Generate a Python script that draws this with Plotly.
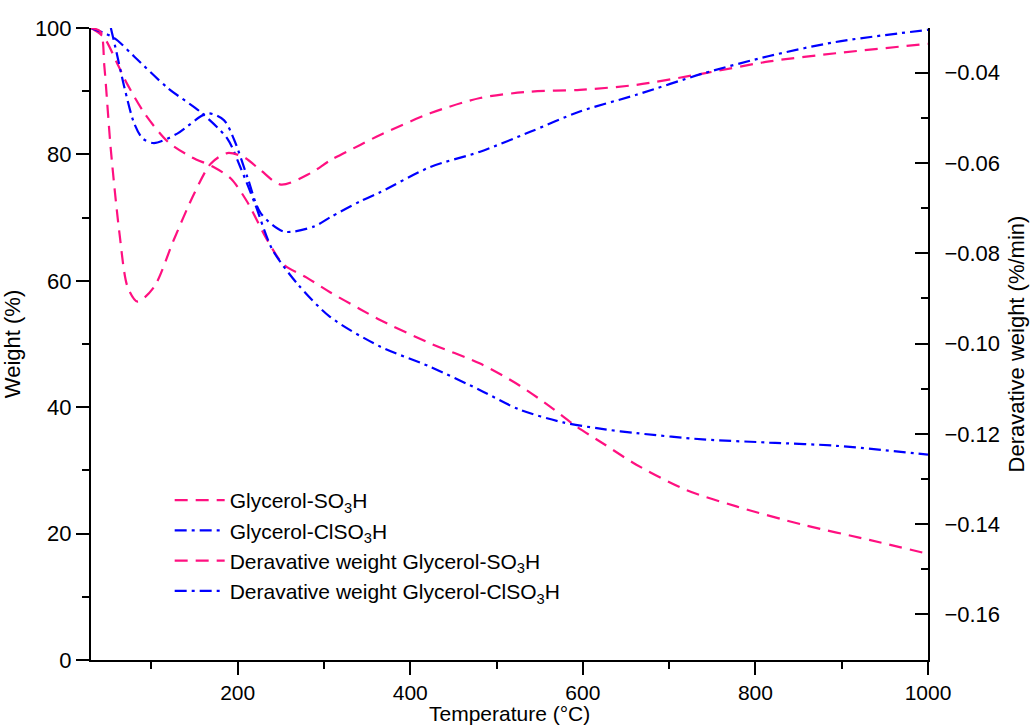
import plotly.graph_objects as go

# Weight curves (left axis, %)
t_w_so3h = [30, 45, 60, 72.5, 92, 119, 146, 172, 192, 211, 234, 253, 280, 307, 342, 365, 423, 481, 527, 562, 593, 623, 662, 720, 778, 855, 932, 1000]
w_so3h = [100, 98.5, 94.5, 91, 86.5, 82, 79.6, 78, 76.2, 72.5, 66.5, 62.6, 60.5, 58.2, 55.5, 53.8, 50.1, 46.9, 43.4, 40.1, 36.9, 34.3, 30.9, 26.9, 24.3, 21.4, 19.0, 16.8]

t_w_clso3h = [30, 57, 80, 119, 157, 188, 203, 220, 240, 270, 307, 365, 423, 481, 527, 577, 620, 662, 739, 816, 893, 1000]
w_clso3h = [100, 98.4, 95.5, 90.5, 86.7, 82.5, 78, 72.2, 65, 59.4, 54.3, 49.6, 46.4, 42.7, 39.6, 37.6, 36.6, 35.9, 34.9, 34.4, 33.9, 32.5]

# Derivative curves (right axis, %/min)
t_d_so3h = [30, 41, 45.5, 53, 63, 72.5, 84, 103, 126, 149.5, 169, 188, 207, 226.6, 250, 284, 307.5, 342, 365, 423, 481, 539, 596.5, 662, 739, 816, 893, 1000]
d_so3h = [-0.0301, -0.0309, -0.0386, -0.0571, -0.0756, -0.0875, -0.0907, -0.0875, -0.0770, -0.0668, -0.0601, -0.0578, -0.0587, -0.0616, -0.0648, -0.0623, -0.0594, -0.0560, -0.0538, -0.0490, -0.0456, -0.0442, -0.0438, -0.0427, -0.0402, -0.0375, -0.0357, -0.0336]

t_d_clso3h = [53, 59, 68.5, 80, 90, 103, 130, 165, 184, 196, 211, 226.6, 253.5, 288, 307.5, 342, 365, 423, 481, 539, 596.5, 662, 739, 816, 893, 1000]
d_clso3h = [-0.0301, -0.0350, -0.0431, -0.0512, -0.0546, -0.0556, -0.0535, -0.0490, -0.0505, -0.0549, -0.0630, -0.0711, -0.0752, -0.0741, -0.0720, -0.0685, -0.0665, -0.0609, -0.0575, -0.0531, -0.0486, -0.0449, -0.0402, -0.0363, -0.0332, -0.0305]

PINK = "#FF1080"
BLUE = "#0000FF"
FONT = "Liberation Sans, Arial, sans-serif"

fig = go.Figure()
fig.add_trace(go.Scatter(x=t_w_so3h, y=w_so3h, mode="lines", name="Glycerol-SO<sub>3</sub>H",
                         line=dict(color=PINK, width=2.2, dash="13px,8px", shape="spline", smoothing=0.8)))
fig.add_trace(go.Scatter(x=t_w_clso3h, y=w_clso3h, mode="lines", name="Glycerol-ClSO<sub>3</sub>H",
                         line=dict(color=BLUE, width=2.2, dash="12px,5px,3px,5px", shape="spline", smoothing=0.8)))
fig.add_trace(go.Scatter(x=t_d_so3h, y=d_so3h, mode="lines", name="Deravative weight Glycerol-SO<sub>3</sub>H",
                         yaxis="y2",
                         line=dict(color=PINK, width=2.2, dash="13px,8px", shape="spline", smoothing=0.8)))
fig.add_trace(go.Scatter(x=t_d_clso3h, y=d_clso3h, mode="lines", name="Deravative weight Glycerol-ClSO<sub>3</sub>H",
                         yaxis="y2",
                         line=dict(color=BLUE, width=2.2, dash="12px,5px,3px,5px", shape="spline", smoothing=0.8)))

axis_common = dict(showline=True, linecolor="black", linewidth=2, showgrid=False, zeroline=False,
                   ticks="outside", tickcolor="black", tickwidth=2, ticklen=13, automargin=False)

fig.update_layout(
    width=1031, height=728,
    margin=dict(l=91, r=103, t=28, b=68),
    paper_bgcolor="white", plot_bgcolor="white",
    font=dict(family=FONT, color="black"),
    xaxis=dict(range=[30, 1000], tick0=0, dtick=200,
               tickfont=dict(family=FONT, size=21, color="black"),
               minor=dict(dtick=100, tick0=0, ticks="outside", ticklen=7, tickwidth=2, tickcolor="black"),
               **axis_common),
    yaxis=dict(range=[0, 100], tick0=0, dtick=20,
               tickfont=dict(family=FONT, size=22, color="black"),
               title=dict(text="Weight (%)", font=dict(size=22), standoff=8),
               minor=dict(dtick=10, tick0=0, ticks="outside", ticklen=7, tickwidth=2, tickcolor="black"),
               **axis_common),
    yaxis2=dict(overlaying="y", side="right", range=[-0.1701, -0.0301], tick0=-0.16, dtick=0.02,
                tickformat=".2f", automargin=False,
                title=dict(text="Deravative weight (%/min)", font=dict(size=22), standoff=10),
                showline=True, linecolor="black", linewidth=2, showgrid=False, zeroline=False,
                ticks="inside", tickcolor="black", tickwidth=2, ticklen=13,
                ticklabelstandoff=10,
                tickfont=dict(family=FONT, size=22, color="black"),
                minor=dict(dtick=0.01, tick0=-0.16, ticks="inside", ticklen=7, tickwidth=2, tickcolor="black")),
    legend=dict(x=0.094, y=0.285, xanchor="left", yanchor="top", bgcolor="rgba(0,0,0,0)",
                itemwidth=50,
                font=dict(family=FONT, size=21, color="black"), tracegroupgap=0),
    showlegend=True,
    annotations=[dict(text="Temperature (°C)", xref="paper", yref="paper",
                      x=0.5, y=-0.106, xanchor="center", yanchor="bottom", showarrow=False,
                      font=dict(family=FONT, size=21, color="black"))],
)

fig.write_html("out.html")
